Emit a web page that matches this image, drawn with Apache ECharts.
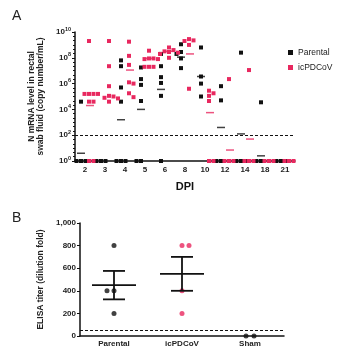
<!DOCTYPE html>
<html lang="en">
<head>
    <meta charset="UTF-8" />
    <title>PDCoV shedding and ELISA</title>
    <script src="https://cdn.jsdelivr.net/npm/echarts@6/dist/echarts.min.js"></script>
</head>
<body style="margin:0">
    <div id="main" style="width: 362px; height: 352px"></div>
    <script>
        // panel A: log10 copies/mL per animal, 0 = below detection
        var dpi = ['2', '3', '4', '5', '6', '8', '10', '12', '14', '18', '21'];
        var parental = [
            [4.6, 0, 0, 0],
            [0, 0, 0],
            [7.8, 7.35, 5.7, 4.6, 0, 0, 0],
            [7.25, 6.35, 5.9, 4.65, 0, 0],
            [8.3, 7.35, 6.5, 6.05, 5.05, 0],
            [9.05, 8.45, 8.3, 7.95, 7.2],
            [8.8, 6.55, 6.0, 5.0],
            [5.8, 4.7, 0, 0],
            [8.4, 0, 0, 0],
            [4.55, 0, 0],
            [0, 0, 0]
        ];
        var icpdcov = [
            [9.3, 5.2, 5.2, 5.2, 5.2, 4.6, 4.6, 0, 0],
            [9.3, 7.35, 5.8, 5.05, 5.0, 4.9, 4.85, 4.6],
            [9.25, 8.15, 7.45, 6.1, 6.0, 5.25, 4.95],
            [8.55, 7.95, 7.95, 7.9, 7.9, 7.3, 7.3, 7.3],
            [8.8, 8.6, 8.5, 8.45, 8.4, 8.3, 8.0],
            [9.45, 9.35, 9.3, 9.0, 5.6],
            [5.45, 5.25, 5.05, 4.65, 0, 0],
            [6.35, 0, 0, 0],
            [7.05, 0, 0, 0],
            [0, 0, 0],
            [0, 0, 0]
        ];
        // geometric means (log10), read from the dashes
        var parentalMean = [0.6, null, 3.2, 4.0, 5.55, 8.05, 6.55, 2.6, 2.1, 0.4, null];
        var icpdcovMean = [4.3, null, 7.05, 7.95, 8.5, 8.3, 3.75, 0.85, 1.7, null, null];
        var limitA = 2;

        // panel B: ELISA titer
        var groups = ['Parental', 'icPDCoV', 'Sham'];
        var elisa = [
            [800, 400, 400, 200],
            [800, 800, 200, 400],
            [0, 0]
        ];
        var limitB = 50;
    </script>
    <script>
        var black = '#111111';
        var red = '#e8285f';
        var font = 'Liberation Sans, Arial, sans-serif';

        // spread overlapping points sideways like a column scatter
        function swarm(groupVals, base, dir, pxPerUnit) {
            var out = [];
            groupVals.forEach(function (vals, ci) {
                var placed = [];
                vals.forEach(function (v) {
                    var y = v * pxPerUnit;
                    var k = 0, dx = base;
                    while (true) {
                        var step = Math.ceil(k / 2) * (k % 2 ? dir : -dir);
                        dx = base + step * 4.5;
                        var hit = placed.some(function (p) {
                            return Math.abs(p[0] - dx) < 4 && Math.abs(p[1] - y) < 4;
                        });
                        if (!hit) break;
                        k++;
                    }
                    placed.push([dx, y]);
                    out.push({ value: [ci, v], symbolOffset: [dx, 0] });
                });
            });
            return out;
        }

        var pxA = 129 / 10;

        var myChart = echarts.init(document.getElementById('main'));

        function meanData(arr) {
            var d = [];
            arr.forEach(function (m, i) { if (m !== null) d.push([i, m]); });
            return d;
        }

        var elisaPts = [];
        elisa.forEach(function (vals, gi) {
            var seen = {};
            vals.forEach(function (v) {
                var n = seen[v] || 0;
                seen[v] = n + 1;
                var dx = n === 0 ? 0 : (gi === 0 ? -7 : 7);
                if (gi === 2) dx = n === 0 ? -4 : 4;
                elisaPts.push({
                    value: [gi, v],
                    symbolOffset: [dx, 0],
                    itemStyle: { color: gi === 1 ? red : black }
                });
            });
        });

        // mean +/- SEM for the infected groups
        var stats = [];
        elisa.forEach(function (vals, gi) {
            if (gi === 2) return;
            var n = vals.length;
            var m = vals.reduce(function (a, b) { return a + b; }, 0) / n;
            var sd = Math.sqrt(vals.reduce(function (a, b) { return a + (b - m) * (b - m); }, 0) / (n - 1));
            var se = sd / Math.sqrt(n);
            stats.push([gi, m, m - se, m + se]);
        });

        var option = {
            animation: false,
            textStyle: { fontFamily: font },
            title: [
                { text: 'A', left: 7, top: 4, textStyle: { fontSize: 14, fontWeight: 'normal', color: '#222' } },
                { text: 'B', left: 7, top: 206, textStyle: { fontSize: 14, fontWeight: 'normal', color: '#222' } }
            ],
            legend: {
                data: ['Parental', 'icPDCoV'],
                orient: 'vertical',
                left: 283,
                top: 43,
                itemWidth: 5,
                itemHeight: 5,
                itemGap: 6,
                icon: 'rect',
                textStyle: { fontSize: 8.5, color: '#222' }
            },
            grid: [
                { left: 75, top: 32, width: 220, height: 129 },
                { left: 80, top: 223, width: 204, height: 113 }
            ],
            xAxis: [
                {
                    gridIndex: 0,
                    type: 'category',
                    data: dpi,
                    name: 'DPI',
                    nameLocation: 'middle',
                    nameGap: 20,
                    nameTextStyle: { fontSize: 11, fontWeight: 'bold', color: '#111' },
                    axisLine: { lineStyle: { color: black, width: 1.5 } },
                    axisTick: { alignWithLabel: true, length: 3, lineStyle: { color: black } },
                    axisLabel: { fontSize: 8, fontWeight: 'bold', color: '#222', margin: 5, interval: 0 },
                    splitLine: { show: false }
                },
                {
                    gridIndex: 1,
                    type: 'category',
                    data: groups,
                    axisLine: { lineStyle: { color: black, width: 1.5 } },
                    axisTick: { alignWithLabel: true, length: 3, lineStyle: { color: black } },
                    axisLabel: { fontSize: 8, fontWeight: 'bold', color: '#222', margin: 4 },
                    splitLine: { show: false }
                }
            ],
            yAxis: [
                {
                    gridIndex: 0,
                    type: 'value',
                    min: 0,
                    max: 10,
                    interval: 2,
                    name: 'N mRNA level in rectal\nswab fluid (copy number/mL)',
                    nameLocation: 'middle',
                    nameGap: 26,
                    nameTextStyle: { fontSize: 8.5, fontWeight: 'bold', color: '#222', lineHeight: 9 },
                    axisLine: { show: true, lineStyle: { color: black, width: 1.5 } },
                    axisTick: { show: true, length: 3, lineStyle: { color: black } },
                    minorTick: { show: true, splitNumber: 6, length: 2, lineStyle: { color: black } },
                    splitLine: { show: false },
                    axisLabel: {
                        margin: 4,
                        color: '#222',
                        formatter: function (v) { return '{b|10}{s|' + v + '}'; },
                        rich: {
                            b: { fontSize: 8, fontWeight: 'bold', color: '#222' },
                            s: { fontSize: 5.5, fontWeight: 'bold', color: '#222', padding: [0, 0, 6, 0] }
                        }
                    }
                },
                {
                    gridIndex: 1,
                    type: 'value',
                    min: 0,
                    max: 1000,
                    interval: 200,
                    name: 'ELISA titer (dilution fold)',
                    nameLocation: 'middle',
                    nameGap: 27,
                    nameTextStyle: { fontSize: 8.5, fontWeight: 'bold', color: '#222' },
                    axisLine: { show: true, lineStyle: { color: black, width: 1.5 } },
                    axisTick: { show: true, length: 3, lineStyle: { color: black } },
                    splitLine: { show: false },
                    axisLabel: { fontSize: 8, fontWeight: 'bold', color: '#222', margin: 4 }
                }
            ],
            series: [
                {
                    name: 'Parental',
                    type: 'scatter',
                    xAxisIndex: 0,
                    yAxisIndex: 0,
                    symbol: 'rect',
                    symbolSize: 4,
                    itemStyle: { color: black, opacity: 1 },
                    data: swarm(parental, -4, -1, pxA),
                    z: 3,
                    markLine: {
                        silent: true,
                        symbol: 'none',
                        label: { show: false },
                        lineStyle: { color: black, type: [3, 2], width: 1.2 },
                        data: [{ yAxis: limitA }]
                    }
                },
                {
                    name: 'icPDCoV',
                    type: 'scatter',
                    xAxisIndex: 0,
                    yAxisIndex: 0,
                    symbol: 'rect',
                    symbolSize: 4,
                    itemStyle: { color: red, opacity: 1 },
                    data: swarm(icpdcov, 4, 1, pxA),
                    z: 3
                },
                {
                    name: 'Parental mean',
                    type: 'scatter',
                    xAxisIndex: 0,
                    yAxisIndex: 0,
                    symbol: 'rect',
                    symbolSize: [8, 1.5],
                    symbolOffset: [-4, 0],
                    itemStyle: { color: black },
                    data: meanData(parentalMean),
                    z: 4
                },
                {
                    name: 'icPDCoV mean',
                    type: 'scatter',
                    xAxisIndex: 0,
                    yAxisIndex: 0,
                    symbol: 'rect',
                    symbolSize: [8, 1.5],
                    symbolOffset: [5, 0],
                    itemStyle: { color: red },
                    data: meanData(icpdcovMean),
                    z: 4
                },
                {
                    name: 'ELISA',
                    type: 'scatter',
                    xAxisIndex: 1,
                    yAxisIndex: 1,
                    symbol: 'circle',
                    symbolSize: 5,
                    data: elisaPts,
                    z: 3,
                    markLine: {
                        silent: true,
                        symbol: 'none',
                        label: { show: false },
                        lineStyle: { color: black, type: [3, 2], width: 1.2 },
                        data: [{ yAxis: limitB }]
                    }
                },
                {
                    name: 'Mean SEM',
                    type: 'custom',
                    xAxisIndex: 1,
                    yAxisIndex: 1,
                    z: 5,
                    data: stats,
                    renderItem: function (params, api) {
                        var c = api.coord([api.value(0), api.value(1)]);
                        var lo = api.coord([api.value(0), api.value(2)]);
                        var hi = api.coord([api.value(0), api.value(3)]);
                        var st = { stroke: black, lineWidth: 1.8 };
                        return {
                            type: 'group',
                            children: [
                                { type: 'line', shape: { x1: c[0] - 22, y1: c[1], x2: c[0] + 22, y2: c[1] }, style: st },
                                { type: 'line', shape: { x1: c[0], y1: lo[1], x2: c[0], y2: hi[1] }, style: st },
                                { type: 'line', shape: { x1: c[0] - 11, y1: lo[1], x2: c[0] + 11, y2: lo[1] }, style: st },
                                { type: 'line', shape: { x1: c[0] - 11, y1: hi[1], x2: c[0] + 11, y2: hi[1] }, style: st }
                            ]
                        };
                    }
                }
            ]
        };

        myChart.setOption(option);
    </script>
</body>
</html>
